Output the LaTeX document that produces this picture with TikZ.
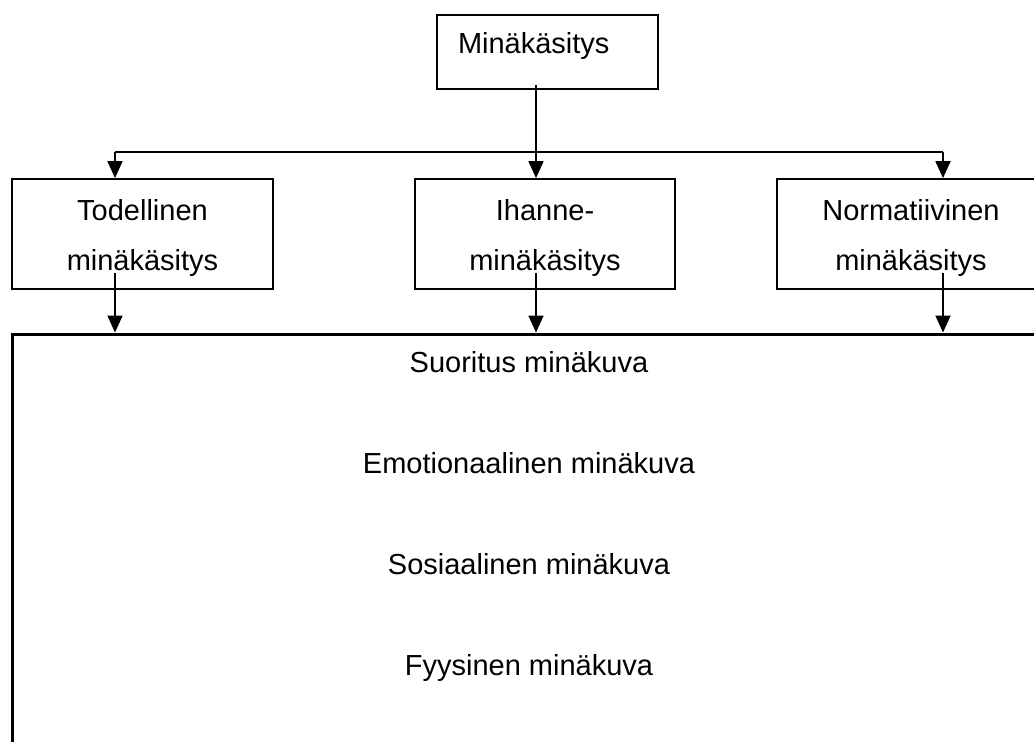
\documentclass[tikz,border=0pt]{standalone}
\usepackage{fontspec}
\setmainfont{Liberation Sans}
\usetikzlibrary{arrows.meta,calc}
\begin{document}
\begin{tikzpicture}[x=1pt,y=-1pt,
  box/.style={draw=black,line width=1.8pt,inner sep=0pt,align=center,
    font=\fontsize{29}{50}\selectfont},
  pair/.style={box,minimum height=110,text height=91pt,text depth=19pt},
  lbl/.style={inner sep=0pt,anchor=base,font=\fontsize{29}{35}\selectfont},
  conn/.style={line width=1.8pt},
  arr/.style={conn,-{Triangle[length=17pt,width=15pt]}}]
\useasboundingbox (0,0) rectangle (1034,742);
\clip (0,0) rectangle (1034,742);

% top concept
\node[box, minimum width=221, minimum height=74, text width=179, align=left,
      text height=38pt, text depth=36pt] (top) at (547.5,52) {Minäkäsitys};

% three kinds of self-concept
\node[pair, minimum width=261] (tod) at (142.5,234) {Todellinen\\minäkäsitys};
\node[pair, minimum width=260] (iha) at (545,234) {Ihanne-\\minäkäsitys};
\node[pair, minimum width=268] (nor) at (911,234) {Normatiivinen\\minäkäsitys};

% large frame with the self-image areas
\node[draw=black, line width=3pt, inner sep=0pt, minimum width=1048,
      minimum height=430] (base) at (536,549) {};
\node[lbl] (s1) at (529,372) {Suoritus minäkuva};
\node[lbl] (s2) at (529,473) {Emotionaalinen minäkuva};
\node[lbl] (s3) at (529,574) {Sosiaalinen minäkuva};
\node[lbl] (s4) at (529,675) {Fyysinen minäkuva};

% branching connectors
\coordinate (jl) at (115,152);
\coordinate (jm) at (536,152);
\coordinate (jr) at (943,152);
\draw[conn] (jl) -- (jr);
\draw[arr] ($(top.south -| jm)+(0,-5)$) -- (iha.north -| jm);
\draw[arr] (jl) -- (tod.north -| jl);
\draw[arr] (jr) -- (nor.north -| jr);

\draw[arr] ($(tod.south -| jl)+(0,-17)$) -- (base.north -| jl);
\draw[arr] ($(iha.south -| jm)+(0,-17)$) -- (base.north -| jm);
\draw[arr] ($(nor.south -| jr)+(0,-17)$) -- (base.north -| jr);
\end{tikzpicture}
\end{document}
